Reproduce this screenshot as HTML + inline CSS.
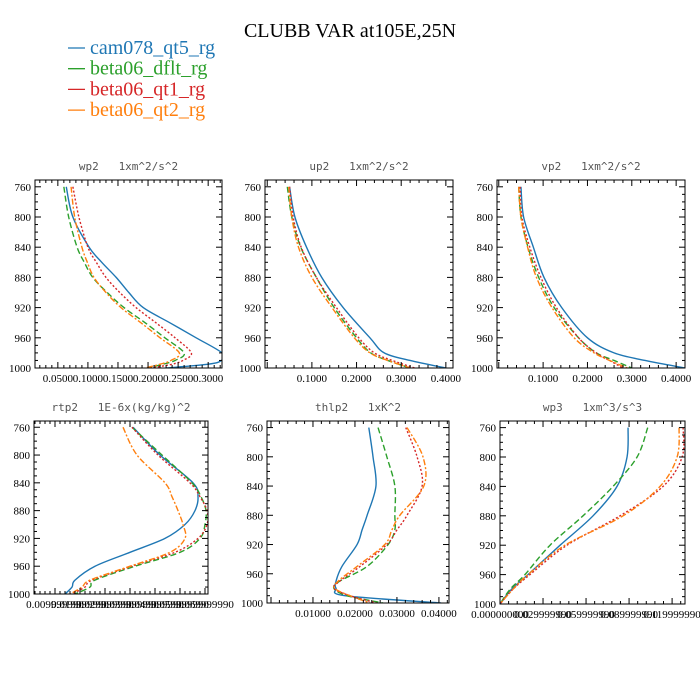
<!DOCTYPE html>
<html><head><meta charset="utf-8"><style>
body{margin:0;background:#fff;}
svg{display:block;}
</style></head><body>
<svg id="c" width="700" height="700" viewBox="0 0 700 700">
<text x="350" y="37" text-anchor="middle" font-family="Liberation Serif, serif" font-size="20">CLUBB VAR at105E,25N</text>
<g id="legend"></g>
<g id="panels"></g>
</svg>
<script>
const seriesNames = ["cam078_qt5_rg","beta06_dflt_rg","beta06_qt1_rg","beta06_qt2_rg"];
const seriesColors = ["#1f77b4","#2ca02c","#d62728","#ff7f0e"];
const seriesDash = ["", "6,3", "2,2", "6,2,2,2"];

const wp2Levels = [760,800,840,860,880,900,920,940,960,980,990,995,1000];
const wp2Blue   = [0.064,0.075,0.102,0.123,0.147,0.168,0.192,0.236,0.280,0.323,0.322,0.300,0.230];
const wp2Green  = [0.060,0.068,0.082,0.094,0.108,0.132,0.160,0.195,0.228,0.260,0.245,0.225,0.200];
const wp2Red    = [0.075,0.085,0.100,0.114,0.130,0.153,0.180,0.213,0.245,0.272,0.258,0.240,0.205];
const wp2Orange = [0.072,0.078,0.090,0.099,0.110,0.130,0.155,0.188,0.220,0.252,0.238,0.220,0.195];

const up2Levels = [760,800,840,880,920,960,980,990,1000];
const up2Blue   = [0.050,0.062,0.088,0.122,0.170,0.230,0.262,0.320,0.400];
const up2Green  = [0.045,0.055,0.075,0.110,0.150,0.200,0.232,0.270,0.320];
const up2Red    = [0.050,0.058,0.076,0.110,0.155,0.205,0.240,0.280,0.330];
const up2Orange = [0.048,0.055,0.070,0.100,0.145,0.195,0.230,0.270,0.320];

const vp2Levels = [760,800,840,880,920,960,980,990,1000];
const vp2Blue   = [0.050,0.056,0.078,0.102,0.142,0.200,0.260,0.330,0.420];
const vp2Green  = [0.045,0.050,0.066,0.090,0.125,0.180,0.220,0.260,0.300];
const vp2Red    = [0.048,0.052,0.070,0.095,0.130,0.180,0.220,0.250,0.280];
const vp2Orange = [0.045,0.050,0.065,0.085,0.120,0.170,0.215,0.250,0.290];

const rtp2Levels = [760,800,840,860,880,900,920,940,960,980,990,1000];
const rtp2Blue   = [0.0412,0.0520,0.0652,0.0672,0.0660,0.0620,0.0540,0.0400,0.0260,0.0180,0.0168,0.0140];
const rtp2Green  = [0.0408,0.0528,0.0648,0.0684,0.0704,0.0700,0.0680,0.0600,0.0420,0.0260,0.0240,0.0180];
const rtp2Red    = [0.0408,0.0512,0.0640,0.0680,0.0708,0.0708,0.0672,0.0580,0.0408,0.0248,0.0220,0.0168];
const rtp2Orange = [0.0372,0.0428,0.0540,0.0568,0.0592,0.0612,0.0620,0.0560,0.0400,0.0240,0.0208,0.0160];

const thlp2Levels = [760,800,840,880,900,920,950,970,980,990,1000];
const thlp2Blue   = [0.0233,0.0243,0.0250,0.0229,0.0217,0.0205,0.0169,0.0155,0.0155,0.0176,0.0405];
const thlp2Green  = [0.0255,0.0276,0.0295,0.0295,0.0295,0.0279,0.0229,0.0164,0.0150,0.0181,0.0267];
const thlp2Red    = [0.0321,0.0348,0.0360,0.0324,0.0300,0.0276,0.0212,0.0164,0.0150,0.0188,0.0252];
const thlp2Orange = [0.0324,0.0362,0.0364,0.0307,0.0288,0.0271,0.0205,0.0160,0.0152,0.0188,0.0236];

const wp3Levels = [760,800,840,880,920,960,980,1000];
const wp3Blue   = [0.0893,0.0886,0.0816,0.0649,0.0419,0.0195,0.0080,0.0];
const wp3Green  = [0.1030,0.0956,0.0788,0.0579,0.0349,0.0174,0.0070,0.0];
const wp3Red    = [0.1277,0.1270,0.1137,0.0837,0.0467,0.0209,0.0090,0.0];
const wp3Orange = [0.1249,0.1235,0.1116,0.0858,0.0453,0.0195,0.0090,0.0];

const yTicks = [760,800,840,880,920,960,1000];
const wp2XTicks = [0.05,0.10,0.15,0.20,0.25,0.30];
const wp2XLabels = ["0.0500","0.1000","0.1500","0.2000","0.2500","0.3000"];
const up2XTicks = [0.1,0.2,0.3,0.4];
const up2XLabels = ["0.1000","0.2000","0.3000","0.4000"];
const rtp2XTicks = [0.01,0.02,0.03,0.04,0.05,0.06,0.07];
const rtp2XLabels = ["0.009999990","0.019999990","0.029999990","0.039999990","0.049999990","0.059999990","0.069999990"];
const thlp2XTicks = [0.01,0.02,0.03,0.04];
const thlp2XLabels = ["0.01000","0.02000","0.03000","0.04000"];
const wp3XTicks = [0.0,0.03,0.06,0.09,0.12];
const wp3XLabels = ["0.000000000","0.029999990","0.059999990","0.089999990","0.119999990"];

const NS="http://www.w3.org/2000/svg";
const svg=document.getElementById('c');
function mk(tag,attrs,parent){const e=document.createElementNS(NS,tag);for(const k in attrs)e.setAttribute(k,attrs[k]);(parent||svg).appendChild(e);return e;}

function smoothPath(pts){
  let d='M'+pts[0][0].toFixed(2)+','+pts[0][1].toFixed(2);
  for(let i=0;i<pts.length-1;i++){
    const p0=pts[Math.max(0,i-1)],p1=pts[i],p2=pts[i+1],p3=pts[Math.min(pts.length-1,i+2)];
    const c1x=p1[0]+(p2[0]-p0[0])/6,c1y=p1[1]+(p2[1]-p0[1])/6;
    const c2x=p2[0]-(p3[0]-p1[0])/6,c2y=p2[1]-(p3[1]-p1[1])/6;
    d+='C'+c1x.toFixed(2)+','+c1y.toFixed(2)+' '+c2x.toFixed(2)+','+c2y.toFixed(2)+' '+p2[0].toFixed(2)+','+p2[1].toFixed(2);
  }
  return d;
}

// legend
const lg=document.getElementById('legend');
seriesNames.forEach((n,i)=>{
  const y=48+i*20.7;
  const ln=mk('line',{x1:68,x2:85,y1:y,y2:y,stroke:seriesColors[i],'stroke-width':1.3},lg);
  
  
  const t=mk('text',{x:90,y:y+6,'font-family':'Liberation Serif, serif','font-size':20,fill:seriesColors[i]},lg);
  t.textContent=n;
  
  
});

const panels=[
 {name:'wp2',title:'wp2   1xm^2/s^2',x0:35,x1:222,y0:180,y1:368,xmin:0.012,xmax:0.323,lev:wp2Levels,data:[wp2Blue,wp2Green,wp2Red,wp2Orange],xt:wp2XTicks,xl:wp2XLabels},
 {name:'up2',title:'up2   1xm^2/s^2',x0:265,x1:453,y0:180,y1:368,xmin:-0.005,xmax:0.416,lev:up2Levels,data:[up2Blue,up2Green,up2Red,up2Orange],xt:up2XTicks,xl:up2XLabels},
 {name:'vp2',title:'vp2   1xm^2/s^2',x0:497,x1:685,y0:180,y1:368,xmin:-0.004,xmax:0.42,lev:vp2Levels,data:[vp2Blue,vp2Green,vp2Red,vp2Orange],xt:up2XTicks,xl:up2XLabels},
 {name:'rtp2',title:'rtp2   1E-6x(kg/kg)^2',x0:34,x1:208,y0:421,y1:594,xmin:0.0016,xmax:0.0712,lev:rtp2Levels,data:[rtp2Blue,rtp2Green,rtp2Red,rtp2Orange],xt:rtp2XTicks,xl:rtp2XLabels},
 {name:'thlp2',title:'thlp2   1xK^2',x0:267,x1:449,y0:421,y1:603,xmin:-0.00095,xmax:0.0424,lev:thlp2Levels,data:[thlp2Blue,thlp2Green,thlp2Red,thlp2Orange],xt:thlp2XTicks,xl:thlp2XLabels},
 {name:'wp3',title:'wp3   1xm^3/s^3',x0:500,x1:685,y0:421,y1:604,xmin:0.0,xmax:0.129,lev:wp3Levels,data:[wp3Blue,wp3Green,wp3Red,wp3Orange],xt:wp3XTicks,xl:wp3XLabels}
];
const PMIN=751,PMAX=1000;
const host=document.getElementById('panels');
panels.forEach(p=>{
  const g=mk('g',{},host);
  
  
  const X=v=>p.x0+(v-p.xmin)/(p.xmax-p.xmin)*(p.x1-p.x0);
  const Y=v=>p.y0+(v-PMIN)/(PMAX-PMIN)*(p.y1-p.y0);
  const cid='clip-'+p.name;
  const cp=mk('clipPath',{id:cid},g);
  mk('rect',{x:p.x0,y:p.y0,width:p.x1-p.x0,height:p.y1-p.y0},cp);
  const t=mk('text',{x:(p.x0+p.x1)/2,y:p.y0-10,'text-anchor':'middle','font-family':'DejaVu Sans Mono, Liberation Mono, monospace','font-size':11,fill:'#555',style:'white-space:pre'},g);
  t.textContent=p.title;
  
  
  p.data.forEach((arr,i)=>{
    const pts=arr.map((v,k)=>[X(v),Y(p.lev[k])]);
    const path=mk('path',{d:smoothPath(pts),fill:'none',stroke:seriesColors[i],'stroke-width':1.4,'stroke-dasharray':seriesDash[i],'clip-path':'url(#'+cid+')','stroke-linejoin':'round'},g);
    
    
  });
  const fr=mk('rect',{x:p.x0,y:p.y0,width:p.x1-p.x0,height:p.y1-p.y0,fill:'none',stroke:'#000','stroke-width':1},g);
  
  
  for(let v=760;v<=1000;v+=10){
    const y=Y(v);const major=(v%40===0);const L=major?6:3;
    mk('line',{x1:p.x0,x2:p.x0+L,y1:y,y2:y,stroke:'#000','stroke-width':1},g);
    mk('line',{x1:p.x1,x2:p.x1-L,y1:y,y2:y,stroke:'#000','stroke-width':1},g);
  }
  yTicks.forEach(v=>{
    const tl=mk('text',{x:p.x0-4,y:Y(v)+4,'text-anchor':'end','font-family':'Liberation Serif, serif','font-size':11},g);
    tl.textContent=v;
    
    
  });
  const step=(p.xt.length>1?p.xt[1]-p.xt[0]:0.1)/5;
  for(let v=p.xt[0]-step*20;v<=p.xmax;v+=step){
    if(v<p.xmin) continue;
    const x=X(v);
    const k=Math.round((v-p.xt[0])/step);
    const L=(k%5===0)?6:3;
    mk('line',{x1:x,x2:x,y1:p.y1,y2:p.y1-L,stroke:'#000','stroke-width':1},g);
    mk('line',{x1:x,x2:x,y1:p.y0,y2:p.y0+L,stroke:'#000','stroke-width':1},g);
  }
  p.xt.forEach((v,i)=>{
    const tl=mk('text',{x:X(v),y:p.y1+14,'text-anchor':'middle','font-family':'Liberation Serif, serif','font-size':11},g);
    tl.textContent=p.xl[i];
    
    
  });
});
</script>
</body></html>
